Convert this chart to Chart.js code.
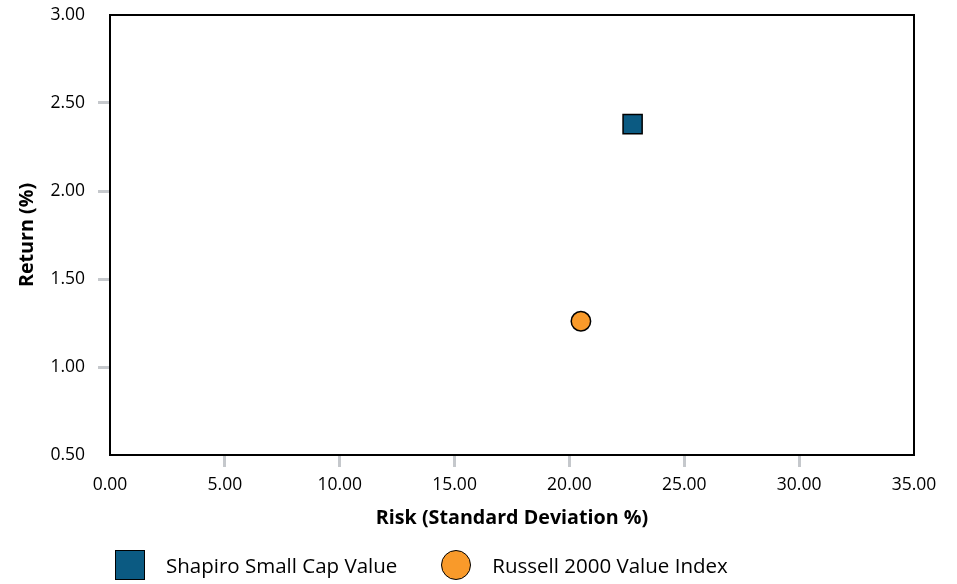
<!DOCTYPE html>
<html>
<head>
<meta charset="utf-8">
<script src="https://cdn.jsdelivr.net/npm/chart.js@4.4.0/dist/chart.umd.min.js"></script>
<style>
  html, body { margin: 0; padding: 0; background: #fff; }
  #wrap { position: relative; width: 957px; height: 584px; }
  #legend { position: absolute; left: 115px; top: 550px; display: flex; align-items: center;
            font-family: "Open Sans", sans-serif; font-size: 20.5px; color: #000; }
  .item { display: flex; align-items: center; margin-right: 44px; }
  .mark { width: 28px; height: 28px; border: 1.5px solid #000; margin-right: 21px; box-sizing: content-box; }
</style>
</head>
<body>
<div id="wrap">
  <canvas id="riskChart" width="957" height="584"></canvas>
  <div id="legend"></div>
</div>
<script>
// risk / return values
var seriesNames = ["Shapiro Small Cap Value", "Russell 2000 Value Index"];
var riskValues = [22.75, 20.5];
var returnValues = [2.38, 1.26];
var pointShapes = ["rect", "circle"];
var pointColors = ["#0b5a82", "#f99a2a"];

var xTicks = [0, 5, 10, 15, 20, 25, 30, 35];
var yTicks = [0.5, 1.0, 1.5, 2.0, 2.5, 3.0];

var fontFam = '"Open Sans", sans-serif';
var tickGray = '#c5c8cc';

var datasets = [];
for (let i = 0; i < seriesNames.length; i++) {
    datasets.push({
        label: seriesNames[i],
        data: [{ x: riskValues[i], y: returnValues[i] }],
        pointStyle: pointShapes[i],
        backgroundColor: pointColors[i],
        borderColor: '#000',
        borderWidth: 1.5,
        pointRadius: pointShapes[i] == "rect" ? 13.5 : 9.7,
        pointHoverRadius: pointShapes[i] == "rect" ? 13.5 : 9.7
    });
}

// frame round the plot area
var framePlugin = {
    id: 'frame',
    afterDraw: function (chart) {
        var a = chart.chartArea, ctx = chart.ctx;
        ctx.save();
        ctx.strokeStyle = '#000';
        ctx.lineWidth = 2;
        ctx.strokeRect(a.left, a.top, a.right - a.left, a.bottom - a.top);
        ctx.restore();
    }
};

function edgeTick(ctx) {
    var n = ctx.scale.ticks.length;
    return (ctx.index == 0 || ctx.index == n - 1) ? 'rgba(0,0,0,0)' : tickGray;
}

var chart = new Chart(document.getElementById('riskChart'), {
    type: 'scatter',
    data: { datasets: datasets },
    plugins: [framePlugin],
    options: {
        responsive: false,
        animation: false,
        layout: { padding: { left: 0, top: 14, right: 43, bottom: 54 } },
        plugins: {
            legend: { display: false },
            tooltip: { enabled: false }
        },
        scales: {
            x: {
                type: 'linear',
                min: xTicks[0],
                max: xTicks[xTicks.length - 1],
                afterBuildTicks: function (s) { s.ticks = xTicks.map(v => ({ value: v })); },
                afterFit: function (s) { s.height = 75; },
                border: { display: false },
                grid: { drawOnChartArea: false, drawTicks: true, tickLength: 12, tickWidth: 3, tickColor: edgeTick },
                ticks: {
                    padding: 8,
                    color: '#000',
                    font: { family: fontFam, size: 17.5 },
                    callback: v => Number(v).toFixed(2)
                },
                title: {
                    display: true,
                    text: 'Risk (Standard Deviation %)',
                    color: '#000',
                    font: { family: fontFam, size: 19.7, weight: 'bold' },
                    padding: { top: 0, bottom: 0 }
                }
            },
            y: {
                type: 'linear',
                min: yTicks[0],
                max: yTicks[yTicks.length - 1],
                afterBuildTicks: function (s) { s.ticks = yTicks.map(v => ({ value: v })); },
                afterFit: function (s) { s.width = 110; s.paddingTop = 0; s.paddingBottom = 0; },
                border: { display: false },
                grid: { drawOnChartArea: false, drawTicks: true, tickLength: 12, tickWidth: 3, tickColor: edgeTick },
                ticks: {
                    padding: 13,
                    color: '#000',
                    font: { family: fontFam, size: 17.5 },
                    callback: v => Number(v).toFixed(2)
                },
                title: {
                    display: true,
                    text: 'Return (%)',
                    color: '#000',
                    font: { family: fontFam, size: 19.7, weight: 'bold' },
                    padding: { top: 16, bottom: 0 }
                }
            }
        }
    }
});

// legend built from the datasets
var legend = document.getElementById('legend');
chart.data.datasets.forEach(function (ds) {
    var item = document.createElement('div');
    item.className = 'item';
    var mark = document.createElement('div');
    mark.className = 'mark';
    mark.style.background = ds.backgroundColor;
    if (ds.pointStyle == 'circle') mark.style.borderRadius = '50%';
    var txt = document.createElement('span');
    txt.textContent = ds.label;
    item.appendChild(mark);
    item.appendChild(txt);
    legend.appendChild(item);
});
</script>
</body>
</html>
